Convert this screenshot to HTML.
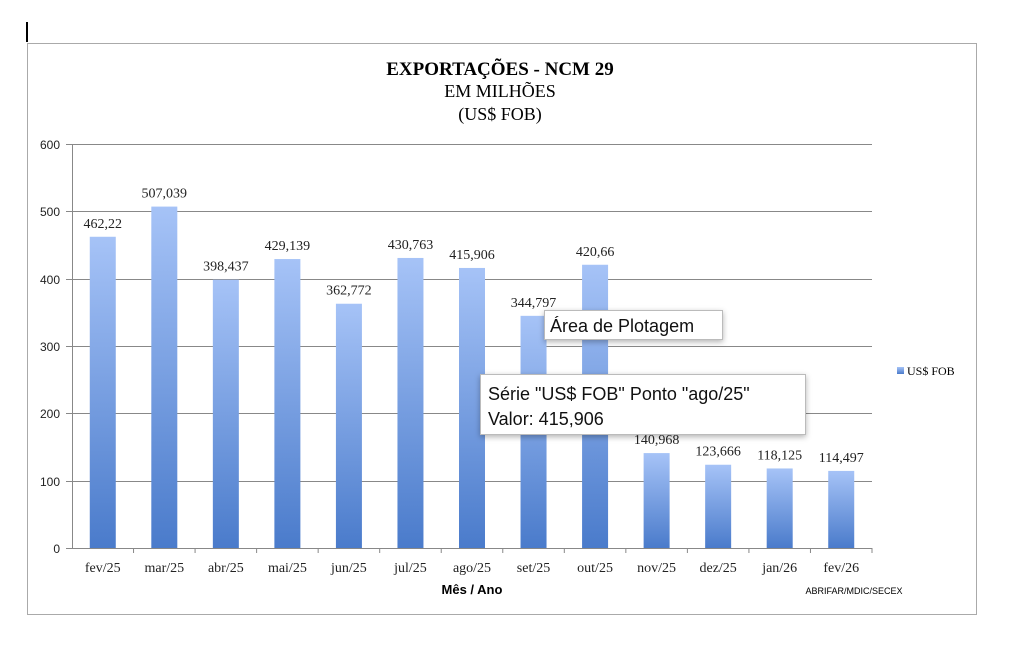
<!DOCTYPE html>
<html><head><meta charset="utf-8"><style>body{margin:0;background:#fff}svg{display:block}</style></head><body>
<svg width="1024" height="659" xmlns="http://www.w3.org/2000/svg" font-family="Liberation Serif, serif">
<defs><linearGradient id="g" x1="0" y1="0" x2="0" y2="1"><stop offset="0" stop-color="#a6c3f7"/><stop offset="1" stop-color="#4a7bcb"/></linearGradient>
<filter id="sh" x="-10%" y="-10%" width="130%" height="140%"><feDropShadow dx="0" dy="2" stdDeviation="3" flood-opacity="0.3"/></filter></defs>
<rect x="27.5" y="43.5" width="949" height="571" fill="#fff" stroke="#aaa"/>
<rect x="26" y="22" width="2" height="20" fill="#000"/>
<text x="500" y="75" text-anchor="middle" font-size="19" font-weight="bold">EXPORTAÇÕES - NCM 29</text>
<text x="500" y="97" text-anchor="middle" font-size="18">EM MILHÕES</text>
<text x="500" y="120" text-anchor="middle" font-size="18">(US$ FOB)</text>
<g stroke="#888" stroke-width="1">
<line x1="66" y1="144.5" x2="872" y2="144.5"/><line x1="66" y1="211.5" x2="872" y2="211.5"/><line x1="66" y1="279.5" x2="872" y2="279.5"/><line x1="66" y1="346.5" x2="872" y2="346.5"/><line x1="66" y1="413.5" x2="872" y2="413.5"/><line x1="66" y1="481.5" x2="872" y2="481.5"/><line x1="66" y1="548.5" x2="872" y2="548.5"/>
<line x1="72.5" y1="144" x2="72.5" y2="548"/>
</g>
<g font-family="Liberation Sans, sans-serif" font-size="12" text-anchor="end" fill="#222">
<text x="60" y="149">600</text><text x="60" y="216">500</text><text x="60" y="284">400</text><text x="60" y="351">300</text><text x="60" y="418">200</text><text x="60" y="486">100</text><text x="60" y="553">0</text></g>
<g id="bars" font-size="14" text-anchor="middle" fill="#222"></g>
<text x="472" y="594" text-anchor="middle" font-size="13" font-weight="bold" font-family="Liberation Sans, sans-serif">Mês / Ano</text>
<text x="854" y="594" text-anchor="middle" font-size="9" font-family="Liberation Sans Narrow, Liberation Sans, sans-serif">ABRIFAR/MDIC/SECEX</text>
<rect x="897" y="367" width="7" height="7" fill="url(#g)"/>
<text x="907" y="375" font-size="12">US$ FOB</text>
<g filter="url(#sh)"><rect x="544.5" y="310.5" width="178" height="29" fill="#fff" stroke="#bbb"/>
<rect x="480.5" y="374.5" width="325" height="60" fill="#fff" stroke="#bbb"/></g>
<g font-family="Liberation Sans, sans-serif" font-size="18" fill="#111">
<text x="550" y="332">Área de Plotagem</text>
<text x="488" y="400">Série "US$ FOB" Ponto "ago/25"</text>
<text x="488" y="425">Valor: 415,906</text></g>
</svg>
<script>
var d=[["fev/25",462.22,"462,22"],["mar/25",507.039,"507,039"],["abr/25",398.437,"398,437"],["mai/25",429.139,"429,139"],["jun/25",362.772,"362,772"],["jul/25",430.763,"430,763"],["ago/25",415.906,"415,906"],["set/25",344.797,"344,797"],["out/25",420.66,"420,66"],["nov/25",140.968,"140,968"],["dez/25",123.666,"123,666"],["jan/26",118.125,"118,125"],["fev/26",114.497,"114,497"]];
var g=document.getElementById("bars"),s="",w=800/13;
d.forEach(function(e,i){var c=72+w*(i+.5),h=e[1]*404/600,y=548-h;
s+='<rect x="'+(c-13)+'" y="'+y+'" width="26" height="'+h+'" fill="url(#g)"/>';
s+='<text x="'+c+'" y="'+(y-9)+'">'+e[2]+'</text>';
s+='<text x="'+c+'" y="572" font-size="14">'+e[0]+'</text>';
s+='<line x1="'+(72+w*(i+1))+'" y1="548" x2="'+(72+w*(i+1))+'" y2="553" stroke="#888"/>';});
g.innerHTML=s;
</script>
</body></html>
